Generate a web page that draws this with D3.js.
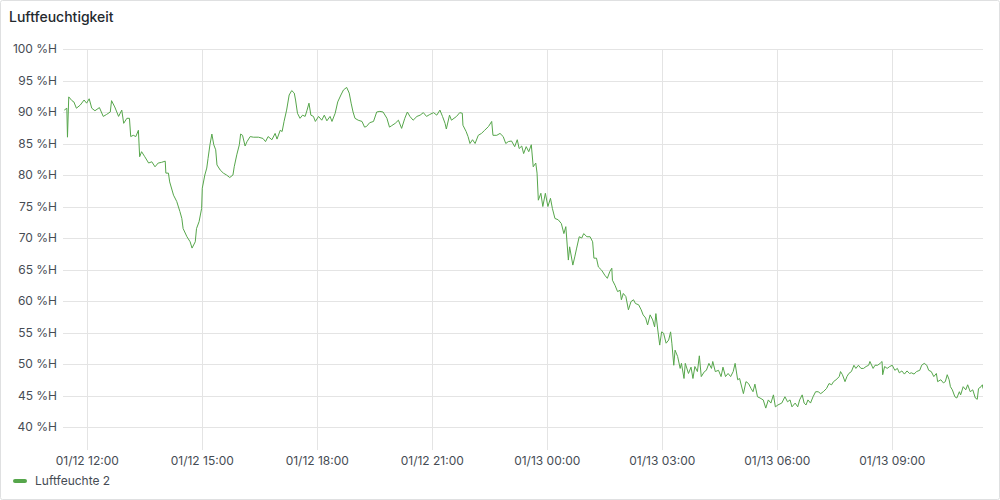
<!DOCTYPE html>
<html>
<head>
<meta charset="utf-8">
<script src="https://cdn.jsdelivr.net/npm/d3@7"></script>
<style>
  body { margin: 0; background: #fff; }
  svg { display: block; font-family: Inter, "Noto Sans", sans-serif; }
</style>
</head>
<body>
<div class="viz"></div>
<script>
var width = 1000,
    height = 500;

var panelTitle = 'Luftfeuchtigkeit';
var seriesName = 'Luftfeuchte 2';

var yTicks = [40, 45, 50, 55, 60, 65, 70, 75, 80, 85, 90, 95, 100];
var xTickLabels = ['01/12 12:00', '01/12 15:00', '01/12 18:00', '01/12 21:00',
                   '01/13 00:00', '01/13 03:00', '01/13 06:00', '01/13 09:00'];

// time range shown: 01/12 11:22 -> 01/13 11:22 (minutes after 01/12 00:00)
var rangeMinutes = [682, 2122];

// [minutes after 01/12 00:00, relative humidity %]
var humidity = [
  [684, 90.3], [688, 90.6], [689, 86.0], [691, 92.4], [696, 91.8], [699, 91.6], [703, 90.6],
  [709, 91.1], [715, 91.9], [719, 91.4], [723, 92.1], [727, 90.6], [732, 90.2], [739, 90.7],
  [745, 89.3], [750, 89.6], [756, 90.0], [758, 91.8], [763, 90.8], [769, 89.3], [774, 90.3],
  [777, 88.2], [782, 89.0], [786, 89.0], [788, 86.1], [792, 86.3], [796, 86.1], [800, 87.1],
  [802, 82.9], [805, 83.7], [810, 82.9], [816, 81.9], [821, 82.1], [826, 81.3], [831, 81.9],
  [836, 82.0], [842, 82.2], [843, 80.3], [847, 80.3], [849, 78.9], [855, 76.8], [860, 75.8],
  [865, 74.2], [868, 73.1], [870, 71.5], [876, 70.2], [881, 69.4], [884, 68.4], [889, 69.4],
  [891, 71.5], [895, 72.6], [899, 74.7], [900, 77.9], [904, 80.0], [907, 81.1], [909, 82.6],
  [912, 84.8], [915, 86.5], [918, 84.8], [921, 84.0], [923, 81.6], [928, 80.8], [933, 80.3],
  [938, 80.0], [943, 79.6], [948, 80.0], [950, 81.3], [954, 83.2], [958, 84.8], [960, 86.5],
  [963, 86.3], [967, 84.6], [970, 85.3], [975, 86.1],
  [980, 86.0], [988, 86.0], [995, 85.8], [999, 85.3], [1003, 86.1], [1009, 85.6], [1014, 86.6],
  [1017, 85.7], [1022, 87.1], [1025, 86.9], [1028, 88.5], [1032, 90.3], [1036, 92.7], [1040, 93.4],
  [1044, 93.0], [1046, 91.9], [1049, 89.8], [1053, 89.0], [1057, 89.5], [1061, 89.3], [1064, 90.3],
  [1067, 91.4], [1070, 89.5], [1074, 89.3], [1077, 88.5], [1082, 89.3], [1087, 88.7], [1091, 89.5],
  [1095, 88.6], [1100, 89.3], [1103, 88.5], [1108, 89.8], [1112, 91.6], [1117, 92.7], [1121, 93.5],
  [1126, 93.9], [1130, 93.0], [1133, 91.4], [1136, 90.0], [1139, 89.0], [1144, 88.7], [1150, 88.5],
  [1154, 87.6], [1157, 87.7], [1162, 88.3], [1168, 88.5], [1173, 90.0], [1178, 90.1], [1183, 90.0],
  [1189, 89.0], [1193, 87.6], [1196, 87.8], [1202, 88.2], [1207, 88.7], [1212, 87.4], [1217, 89.0],
  [1221, 90.0], [1225, 89.3], [1230, 88.7], [1236, 89.3], [1241, 89.5], [1246, 89.9], [1251, 89.3],
  [1256, 89.6], [1262, 89.9],
  [1267, 89.5], [1272, 90.3], [1276, 89.3], [1280, 88.2], [1282, 87.3], [1287, 89.5], [1290, 88.7],
  [1294, 89.0], [1298, 89.3], [1303, 89.9], [1307, 89.8], [1308, 87.9], [1313, 86.9], [1316, 86.1],
  [1319, 85.0], [1323, 85.6], [1327, 85.0], [1332, 86.3], [1337, 86.6], [1342, 87.1], [1348, 87.7],
  [1353, 88.5], [1355, 86.3], [1361, 86.3], [1366, 86.6], [1371, 86.1], [1375, 85.0], [1379, 85.3],
  [1384, 85.4], [1389, 84.5], [1393, 85.6], [1396, 84.2], [1400, 84.6], [1403, 83.4], [1407, 84.5],
  [1411, 83.7], [1415, 84.8], [1418, 81.3], [1422, 81.9], [1424, 80.3], [1426, 76.0], [1430, 77.1],
  [1433, 75.0], [1437, 77.1], [1441, 75.0], [1445, 76.3], [1448, 74.7], [1452, 73.1], [1457, 72.9],
  [1462, 72.3], [1466, 70.7], [1469, 71.8], [1473, 66.5], [1475, 68.6], [1480, 65.7], [1483, 67.0],
  [1486, 68.4], [1490, 70.2], [1494, 70.0], [1497, 70.7], [1502, 70.2], [1507, 70.2], [1511, 69.4],
  [1513, 66.8], [1517, 66.8], [1520, 65.4], [1525, 64.9], [1530, 64.1], [1534, 63.6], [1538, 64.7],
  [1541, 65.2], [1542, 63.3],
  [1546, 62.5], [1550, 61.5], [1554, 61.7], [1556, 60.2], [1559, 61.2], [1563, 60.7], [1567, 58.6],
  [1571, 59.9], [1575, 60.2], [1578, 59.6], [1583, 59.4], [1587, 58.6], [1590, 57.8], [1594, 57.3],
  [1597, 56.2], [1601, 57.8], [1605, 57.0], [1608, 55.9], [1610, 58.0], [1613, 55.4], [1616, 53.0],
  [1619, 55.1], [1622, 54.9], [1626, 53.3], [1630, 53.8], [1633, 55.1], [1635, 53.3], [1638, 49.8],
  [1640, 52.2], [1644, 51.2], [1648, 49.3], [1650, 50.1], [1654, 47.7], [1656, 50.1], [1661, 48.5],
  [1665, 49.5], [1668, 47.7], [1671, 49.6], [1675, 48.8], [1678, 51.3], [1681, 48.0], [1686, 48.8],
  [1689, 49.0], [1693, 50.1], [1697, 49.3], [1699, 50.4], [1703, 48.8], [1708, 49.0], [1712, 48.0],
  [1715, 49.5], [1719, 48.0], [1723, 48.5], [1727, 48.0], [1731, 48.8], [1734, 50.1], [1738, 47.5],
  [1741, 47.7], [1747, 45.3], [1751, 47.2], [1755, 46.9], [1759, 46.1], [1762, 45.6], [1765, 46.8],
  [1769, 44.8], [1773, 44.6], [1778, 44.3], [1782, 43.0], [1786, 44.3], [1790, 43.8], [1794, 45.1],
  [1797, 43.2], [1801, 43.5], [1807, 43.8], [1812, 44.8], [1816, 44.0], [1820, 44.3], [1823, 43.2],
  [1828, 43.8], [1832, 43.2], [1835, 44.3], [1839, 45.1], [1842, 43.8],
  [1845, 43.5], [1848, 44.3], [1852, 43.8], [1856, 44.8], [1860, 45.6], [1864, 45.6], [1868, 45.3],
  [1872, 45.6], [1877, 46.1], [1881, 46.9], [1885, 46.7], [1888, 47.2], [1892, 47.5], [1897, 48.0],
  [1899, 48.8], [1902, 48.3], [1906, 47.2], [1909, 48.0], [1912, 48.5], [1916, 48.8], [1920, 49.8],
  [1923, 49.3], [1927, 49.8], [1931, 49.3], [1935, 49.3], [1939, 49.6], [1943, 49.8], [1945, 50.4],
  [1950, 49.3], [1953, 49.8], [1957, 49.8], [1961, 50.1], [1964, 50.4], [1965, 48.3], [1968, 49.6],
  [1972, 49.3], [1976, 49.6], [1980, 49.8], [1984, 49.0], [1988, 49.3], [1991, 48.6], [1995, 48.9],
  [1999, 48.4], [2003, 48.9], [2007, 48.5], [2010, 48.6], [2014, 48.4], [2018, 48.8], [2023, 49.0],
  [2026, 49.8], [2030, 50.1], [2034, 49.8], [2037, 49.0], [2041, 48.8], [2045, 48.0], [2049, 48.5],
  [2051, 47.2], [2056, 47.5], [2060, 47.0], [2063, 47.2], [2066, 48.3], [2069, 47.5], [2071, 46.4],
  [2074, 45.9], [2078, 44.8], [2081, 44.6], [2085, 45.6], [2087, 45.1], [2091, 46.4], [2095, 45.9],
  [2098, 46.7], [2102, 45.6], [2106, 45.9], [2110, 44.6], [2113, 44.4], [2115, 46.1], [2119, 46.4],
  [2121, 46.7], [2122, 46.1]
];

var lineColor = '#56a64b',
    gridColor = '#e4e4e4',
    textColor = '#464c54';

function toDate(min){
  return new Date(2024, 0, 12, 0, min);
}
var parseTick = d3.timeParse('%m/%d/%Y %H:%M');

var plot = {left: 63, right: 983, top: 49, bottom: 450};

var x = d3.scaleTime()
  .domain(rangeMinutes.map(toDate))
  .range([plot.left, plot.right]);

// 40 %H sits 23px above the plot bottom
var y = d3.scaleLinear()
  .domain([36.35, 100])
  .range([plot.bottom, plot.top]);

var svg = d3.select('.viz').append('svg')
  .attr('width', width)
  .attr('height', height);

svg.append('rect')
  .attr('x', 0.5).attr('y', 0.5)
  .attr('width', width - 1).attr('height', height - 1)
  .attr('rx', 2)
  .attr('fill', '#fff')
  .attr('stroke', '#dfe0e1');

svg.append('text')
  .attr('x', 9).attr('y', 22)
  .attr('font-size', 14)
  .attr('font-weight', 500)
  .attr('fill', '#24292e')
  .text(panelTitle);

/* grid */
var tickDates = xTickLabels.map(function(s){
  return parseTick(s.slice(0, 5) + '/2024' + s.slice(5));
});

svg.append('g')
  .selectAll('line')
  .data(yTicks)
  .enter().append('line')
  .attr('x1', plot.left).attr('x2', plot.right)
  .attr('y1', function(d){ return Math.round(y(d)) + 0.5; })
  .attr('y2', function(d){ return Math.round(y(d)) + 0.5; })
  .attr('stroke', gridColor);

svg.append('g')
  .selectAll('line')
  .data(tickDates)
  .enter().append('line')
  .attr('x1', function(d){ return Math.round(x(d)) + 0.5; })
  .attr('x2', function(d){ return Math.round(x(d)) + 0.5; })
  .attr('y1', plot.top).attr('y2', plot.bottom)
  .attr('stroke', gridColor);

/* axes labels */
svg.append('g')
  .selectAll('text')
  .data(yTicks)
  .enter().append('text')
  .attr('x', 57)
  .attr('y', function(d){ return y(d); })
  .attr('dy', '0.35em')
  .attr('text-anchor', 'end')
  .attr('font-size', 12)
  .attr('fill', textColor)
  .text(function(d){ return d + ' %H'; });

svg.append('g')
  .selectAll('text')
  .data(tickDates)
  .enter().append('text')
  .attr('x', function(d){ return x(d); })
  .attr('y', 465)
  .attr('text-anchor', 'middle')
  .attr('font-size', 12)
  .attr('fill', textColor)
  .text(function(d, i){ return xTickLabels[i]; });

/* series */
svg.append('clipPath')
  .attr('id', 'plotClip')
  .append('rect')
  .attr('x', plot.left).attr('y', plot.top)
  .attr('width', plot.right - plot.left)
  .attr('height', plot.bottom - plot.top);

var line = d3.line()
  .x(function(d){ return x(toDate(d[0])); })
  .y(function(d){ return y(d[1]); });

svg.append('path')
  .datum(humidity)
  .attr('clip-path', 'url(#plotClip)')
  .attr('fill', 'none')
  .attr('stroke', lineColor)
  .attr('stroke-width', 1)
  .attr('stroke-linejoin', 'round')
  .attr('d', line);

/* legend */
var legend = svg.append('g')
  .attr('transform', 'translate(13,481)');

legend.append('rect')
  .attr('x', 0).attr('y', -2)
  .attr('width', 14).attr('height', 4)
  .attr('rx', 2)
  .attr('fill', lineColor);

legend.append('text')
  .attr('x', 22).attr('y', 0)
  .attr('dy', '0.35em')
  .attr('font-size', 12)
  .attr('fill', textColor)
  .text(seriesName);
</script>
</body>
</html>
